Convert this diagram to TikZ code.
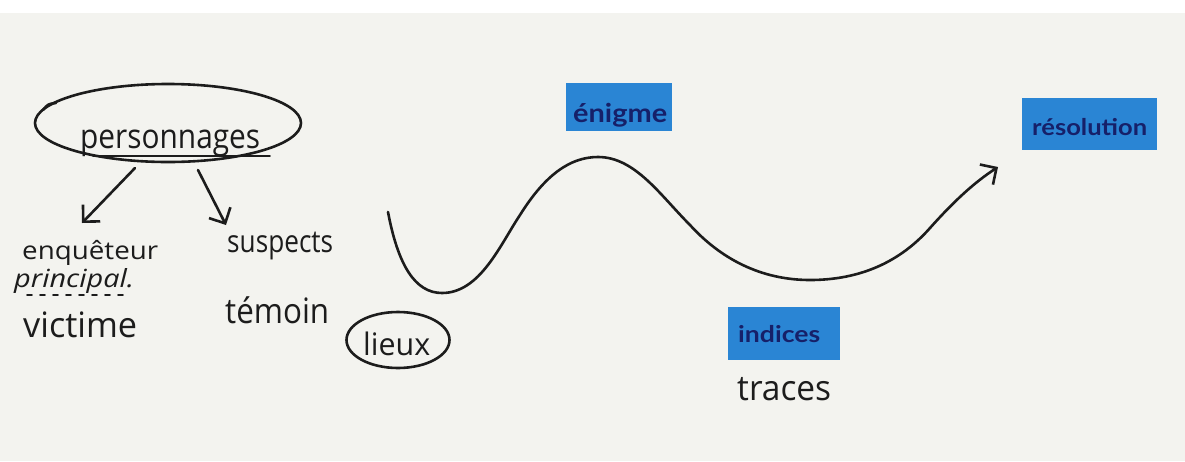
\documentclass[tikz,border=0pt]{standalone}
\usepackage{fontspec}
\usepackage{graphicx}
\setmainfont{Open Sans}
\newfontfamily\labfont{Lato}
\usetikzlibrary{shapes.geometric,arrows.meta}
\definecolor{board}{RGB}{243,243,239}
\definecolor{ink}{RGB}{28,28,28}
\definecolor{card}{RGB}{42,133,212}
\definecolor{navy}{RGB}{22,32,105}
% size, target width, text
\newcommand{\hw}[3]{\resizebox{#2}{\height}{\fontsize{#1}{#1}\selectfont #3}}
\tikzset{
  hand/.style={inner sep=0pt, text=ink, anchor=base west},
  cardbox/.style={fill=card, draw=none, inner sep=0pt},
  cardtext/.style={inner sep=0pt, text=navy, anchor=base west, font=\labfont\bfseries},
  pen/.style={draw=ink, line width=2.6pt, line cap=round, line join=round},
  barb/.style={-{Straight Barb[length=12pt,width=24pt,line width=2.6pt]}}
}
\begin{document}
\begin{tikzpicture}[x=1pt,y=-1pt]
\useasboundingbox (0,0) rectangle (1185,461);
\fill[white] (0,0) rectangle (1185,13);
\fill[board] (0,13) rectangle (1185,461);

% personnages
\node[pen, ellipse, minimum width=266pt, minimum height=78pt] (persell) at (168,123) {};
\draw[pen] (56,103) .. controls (48,104) .. (43,110);
\node[hand] (pers) at (80,148) {\hw{34pt}{180pt}{personnages}};
\draw[pen, line width=1.9pt] (93,156) -- (270,156);

\node[hand] (enq) at (22,259) {\hw{25pt}{136pt}{enquêteur}};
\node[hand] (princ) at (14,287) {\hw{25pt}{120pt}{\itshape principal.}};
\draw[pen, line width=1.9pt, dash pattern=on 5pt off 8pt] (27,295) -- (125,295);
\node[hand] (vict) at (23,337) {\hw{35pt}{114pt}{victime}};
\node[hand] (susp) at (227,252) {\hw{31pt}{106pt}{suspects}};
\node[hand] (temo) at (225,323) {\hw{35pt}{104pt}{témoin}};

\coordinate (a1s) at (135,168);
\coordinate (a1e) at (82,223);
\coordinate (a2s) at (198,170);
\coordinate (a2e) at (226,225);
\draw[pen, barb] (a1s) -- (a1e);
\draw[pen, barb] (a2s) -- (a2e);

% lieux
\node[hand] (lieux) at (363,355) {\hw{31pt}{67pt}{lieux}};
\node[pen, ellipse, minimum width=103pt, minimum height=56pt] (lieuxell) at (398,340) {};

% wave
\draw[pen, barb] (388,212) .. controls (398,265) and (415,293) .. (442,293)
  .. controls (480,293) and (500,245) .. (520,215)
  .. controls (545,175) and (570,157) .. (598,157)
  .. controls (635,157) and (660,195) .. (690,225)
  .. controls (720,258) and (760,280) .. (810,280)
  .. controls (860,280) and (900,262) .. (930,228)
  .. controls (955,200) and (975,182) .. (998,167);

% cards
\node[cardbox, minimum width=106pt, minimum height=48pt] (enig) at (619,107) {};
\node[cardtext] (enigt) at (573,122) {\hw{26pt}{94pt}{énigme}};
\node[cardbox, minimum width=135pt, minimum height=52pt] (reso) at (1089,124) {};
\node[cardtext] (resot) at (1032,135) {\hw{23pt}{115pt}{résolution}};
\node[cardbox, minimum width=112pt, minimum height=53pt] (indi) at (784,333) {};
\node[cardtext] (indit) at (738,342) {\hw{23pt}{82pt}{indices}};
\node[hand] (trac) at (737,400) {\hw{35pt}{94pt}{traces}};
\end{tikzpicture}
\end{document}
